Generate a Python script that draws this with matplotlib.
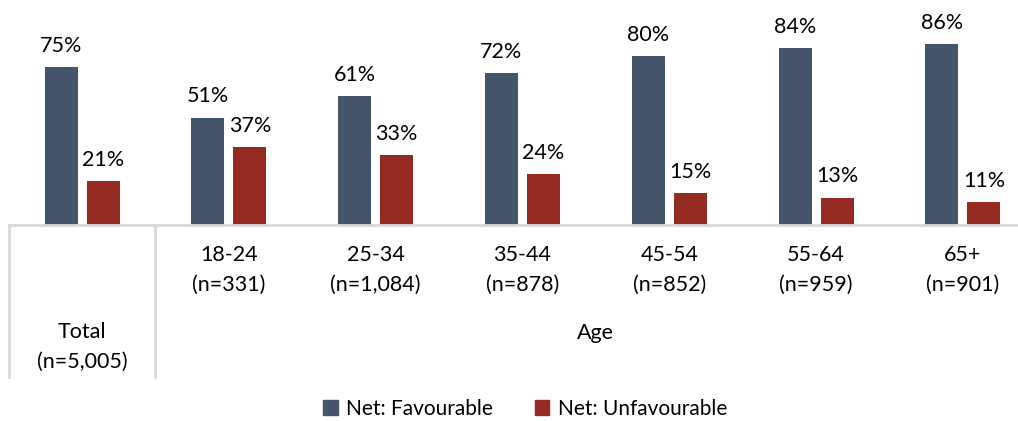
import matplotlib
matplotlib.use("Agg")
import matplotlib.pyplot as plt
from matplotlib.transforms import blended_transform_factory
from matplotlib.patches import Patch

plt.rcParams['font.family'] = ['Lato', 'DejaVu Sans']

groups = ["Total", "18-24", "25-34", "35-44", "45-54", "55-64", "65+"]
sizes = ["(n=5,005)", "(n=331)", "(n=1,084)", "(n=878)", "(n=852)", "(n=959)", "(n=901)"]
favourable = [75, 51, 61, 72, 80, 84, 86]
unfavourable = [21, 37, 33, 24, 15, 13, 11]

blue = "#44546A"
red = "#952A23"
grid = "#D9D9D9"

W, H = 1018, 421
fig = plt.figure(figsize=(W / 100, H / 100), dpi=100)

base_px = 225
px_per_pct = 2.107
ax = fig.add_axes([0, (H - base_px) / H, 1, 100 * px_per_pct / H])
unit = 146.83
ax.set_xlim(-82 / unit, (W - 82) / unit)
ax.set_ylim(0, 100)
ax.axis("off")

x = list(range(len(groups)))
bw = 33 / unit
off = 21 / unit
ax.bar([i - off for i in x], favourable, bw, color=blue, zorder=2)
ax.bar([i + off for i in x], unfavourable, bw, color=red, zorder=2)

fs = 15.5
for i in x:
    ax.annotate(f"{favourable[i]}%", (i - off, favourable[i]), xytext=(0, 8),
                textcoords="offset points", ha="center", va="bottom", fontsize=fs)
    ax.annotate(f"{unfavourable[i]}%", (i + off, unfavourable[i]), xytext=(0, 8),
                textcoords="offset points", ha="center", va="bottom", fontsize=fs)

tr = blended_transform_factory(ax.transData, fig.transFigure)

def fy(py):
    return 1 - py / H

# category table lines
ax.plot([-0.5, 7], [fy(base_px)] * 2, color=grid, lw=2, transform=tr, clip_on=False)
for xv in [-0.5, 0.5]:
    ax.plot([xv, xv], [fy(base_px), fy(377)], color=grid, lw=2, transform=tr, clip_on=False)

for i in x[1:]:
    ax.text(i, fy(255), groups[i], transform=tr, ha="center", va="center", fontsize=fs)
    ax.text(i, fy(285), sizes[i], transform=tr, ha="center", va="center", fontsize=fs)
ax.text(0, fy(332), groups[0], transform=tr, ha="center", va="center", fontsize=fs)
ax.text(0, fy(362), sizes[0], transform=tr, ha="center", va="center", fontsize=fs)
ax.text(3.5, fy(333), "Age", transform=tr, ha="center", va="center", fontsize=fs)

handles = [Patch(color=blue, label="Net: Favourable"), Patch(color=red, label="Net: Unfavourable")]
fig.legend(handles=handles, loc="center", bbox_to_anchor=(525 / W, fy(409)), ncol=2,
           frameon=False, fontsize=15, handlelength=0.7, handleheight=0.7,
           handletextpad=0.4, columnspacing=2.0)

fig.savefig("out.png", dpi=100)
